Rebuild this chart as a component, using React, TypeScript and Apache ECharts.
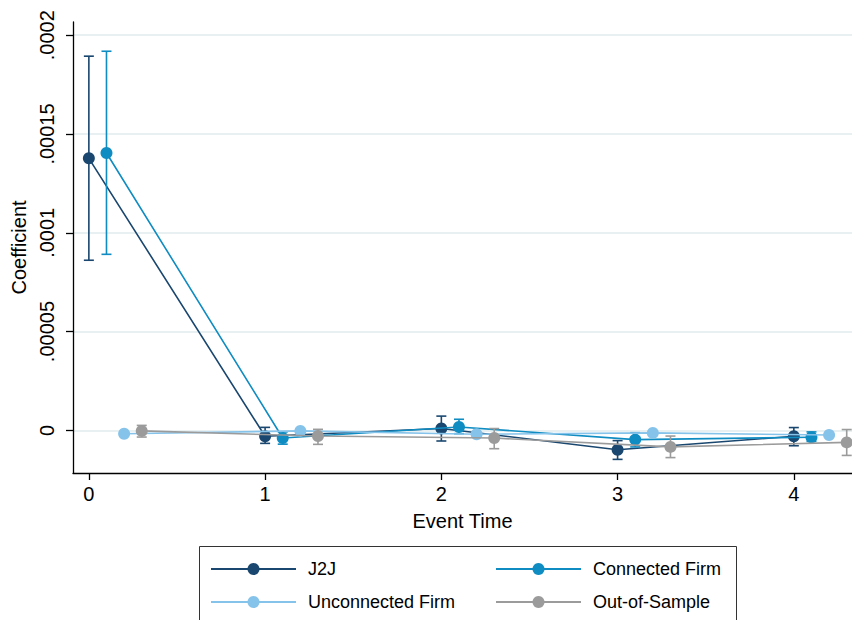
import React, { useEffect, useRef } from "react";
import * as echarts from "echarts";

const eventTimes = [0, 1, 2, 3, 4];
const seriesNames = ["J2J", "Connected Firm", "Unconnected Firm", "Out-of-Sample"];
const seriesOffsets = [0, 0.1, 0.2, 0.3];
const seriesColors = ["#1a476f", "#0f8cc2", "#86c3ea", "#9b9b9b"];

const j2jCoef = [0.0001377, -0.000003, 0.0000009, -0.0000098, -0.000003];
const j2jLow = [0.0000861, -0.0000066, -0.0000054, -0.0000147, -0.0000078];
const j2jHigh = [0.0001894, 0.0000015, 0.0000072, -0.0000052, 0.0000014];

const connCoef = [0.0001404, -0.0000039, 0.0000017, -0.0000047, -0.0000035];
const connLow = [0.0000891, -0.000007, -0.0000017, -0.0000084, -0.0000056];
const connHigh = [0.0001919, -0.0000008, 0.0000056, -0.0000012, -0.0000008];

const unconnCoef = [-0.0000017, -0.0000003, -0.000002, -0.0000013, -0.0000024];
const unconnLow = [-0.0000025, -0.0000011, -0.0000028, -0.0000021, -0.0000032];
const unconnHigh = [-0.0000009, 0.0000005, -0.0000012, -0.0000005, -0.0000016];

const oosCoef = [-0.0000003, -0.0000029, -0.0000039, -0.0000084, -0.0000061];
const oosLow = [-0.0000034, -0.0000071, -0.0000093, -0.0000138, -0.0000127];
const oosHigh = [0.0000025, 0.0000005, 0.0000009, -0.0000029, 0.0000004];

const yTicks = [0, 0.00005, 0.0001, 0.00015, 0.0002];
const yTickLabels = ["0", ".00005", ".0001", ".00015", ".0002"];
const xTicks = [0, 1, 2, 3, 4];
const xTickLabels = ["0", "1", "2", "3", "4"];

const coefs = [j2jCoef, connCoef, unconnCoef, oosCoef];
const lows = [j2jLow, connLow, unconnLow, oosLow];
const highs = [j2jHigh, connHigh, unconnHigh, oosHigh];

const FONT = "'Liberation Sans', Arial, Helvetica, sans-serif";

export default function App() {
  const ref = useRef<HTMLDivElement>(null);
  useEffect(() => {
    if (!ref.current) return;
    const chart = echarts.init(ref.current, null, { renderer: "svg" });

    const series: any[] = [];

    seriesNames.forEach((name, si) => {
      const errData = eventTimes.map((t, i) => [t + seriesOffsets[si], lows[si][i], highs[si][i]]);
      series.push({
        name: name + " CI",
        type: "custom",
        z: 2 + si * 2,
        silent: true,
        encode: { x: 0, y: [1, 2] },
        data: errData,
        renderItem: (params: any, api: any) => {
          const x = api.value(0);
          const lo = api.coord([x, api.value(1)]);
          const hi = api.coord([x, api.value(2)]);
          const cap = 5;
          const style = { stroke: seriesColors[si], lineWidth: 1.6 };
          return {
            type: "group",
            children: [
              { type: "line", shape: { x1: lo[0], y1: lo[1], x2: hi[0], y2: hi[1] }, style },
              { type: "line", shape: { x1: lo[0] - cap, y1: lo[1], x2: lo[0] + cap, y2: lo[1] }, style },
              { type: "line", shape: { x1: hi[0] - cap, y1: hi[1], x2: hi[0] + cap, y2: hi[1] }, style },
            ],
          };
        },
      });
      series.push({
        name,
        type: "line",
        z: 3 + si * 2,
        data: eventTimes.map((t, i) => [t + seriesOffsets[si], coefs[si][i]]),
        symbol: "circle",
        symbolSize: 12,
        showSymbol: true,
        lineStyle: { color: seriesColors[si], width: 1.6 },
        itemStyle: { color: seriesColors[si] },
        color: seriesColors[si],
      });
    });

    chart.setOption({
      animation: false,
      backgroundColor: "#ffffff",
      textStyle: { fontFamily: FONT },
      grid: { left: 73, right: 0, top: 22, bottom: 147, containLabel: false },
      xAxis: {
        type: "value",
        min: -0.09,
        max: 4.33,
        axisLine: { show: true, onZero: false, lineStyle: { color: "#000", width: 1.3 } },
        axisTick: { show: true, length: 7, customValues: xTicks, lineStyle: { color: "#000", width: 1.3 } },
        axisLabel: {
          customValues: xTicks,
          formatter: (v: number) => xTickLabels[xTicks.indexOf(Math.round(v))] ?? "",
          fontSize: 20,
          color: "#000",
          margin: 11,
          fontFamily: FONT,
        },
        splitLine: { show: false },
        name: "Event Time",
        nameLocation: "middle",
        nameGap: 38,
        nameTextStyle: { fontSize: 20, color: "#000", fontFamily: FONT },
      },
      yAxis: {
        type: "value",
        min: -0.0000216,
        max: 0.0002067,
        axisLine: { show: true, onZero: false, lineStyle: { color: "#000", width: 1.3 } },
        axisTick: { show: true, length: 7, customValues: yTicks, lineStyle: { color: "#000", width: 1.3 } },
        axisLabel: {
          customValues: yTicks,
          formatter: (v: number) => {
            let best = 0;
            yTicks.forEach((t, i) => {
              if (Math.abs(t - v) < Math.abs(yTicks[best] - v)) best = i;
            });
            return yTickLabels[best];
          },
          rotate: 90,
          fontSize: 20,
          color: "#000",
          margin: 16,
          fontFamily: FONT,
        },
        splitLine: { show: true, lineStyle: { color: "#e2ebee", width: 1.5 } },
        name: "Coefficient",
        nameLocation: "middle",
        nameRotate: 90,
        nameGap: 40,
        nameTextStyle: { fontSize: 20, color: "#000", fontFamily: FONT },
      },
      legend: [
        {
          data: ["J2J", "Unconnected Firm"],
          orient: "vertical",
          left: 210,
          top: 560,
          padding: 0,
          itemWidth: 85,
          itemHeight: 15,
          itemGap: 15,
          textStyle: { fontSize: 18, color: "#000", fontFamily: FONT, lineHeight: 18, padding: [0, 0, 0, 7] },
        },
        {
          data: ["Connected Firm", "Out-of-Sample"],
          orient: "vertical",
          left: 495,
          top: 560,
          padding: 0,
          itemWidth: 85,
          itemHeight: 15,
          itemGap: 15,
          textStyle: { fontSize: 18, color: "#000", fontFamily: FONT, lineHeight: 18, padding: [0, 0, 0, 7] },
        },
      ],
      graphic: [
        {
          type: "rect",
          z: -1,
          shape: { x: 199.5, y: 546.5, width: 537, height: 80 },
          style: { fill: "#fff", stroke: "#333", lineWidth: 1 },
        },
      ],
      series,
    });
    return () => chart.dispose();
  }, []);
  return (
    <div
      ref={ref}
      style={{ position: "absolute", left: 0, top: 0, width: 852, height: 620 }}
    />
  );
}
